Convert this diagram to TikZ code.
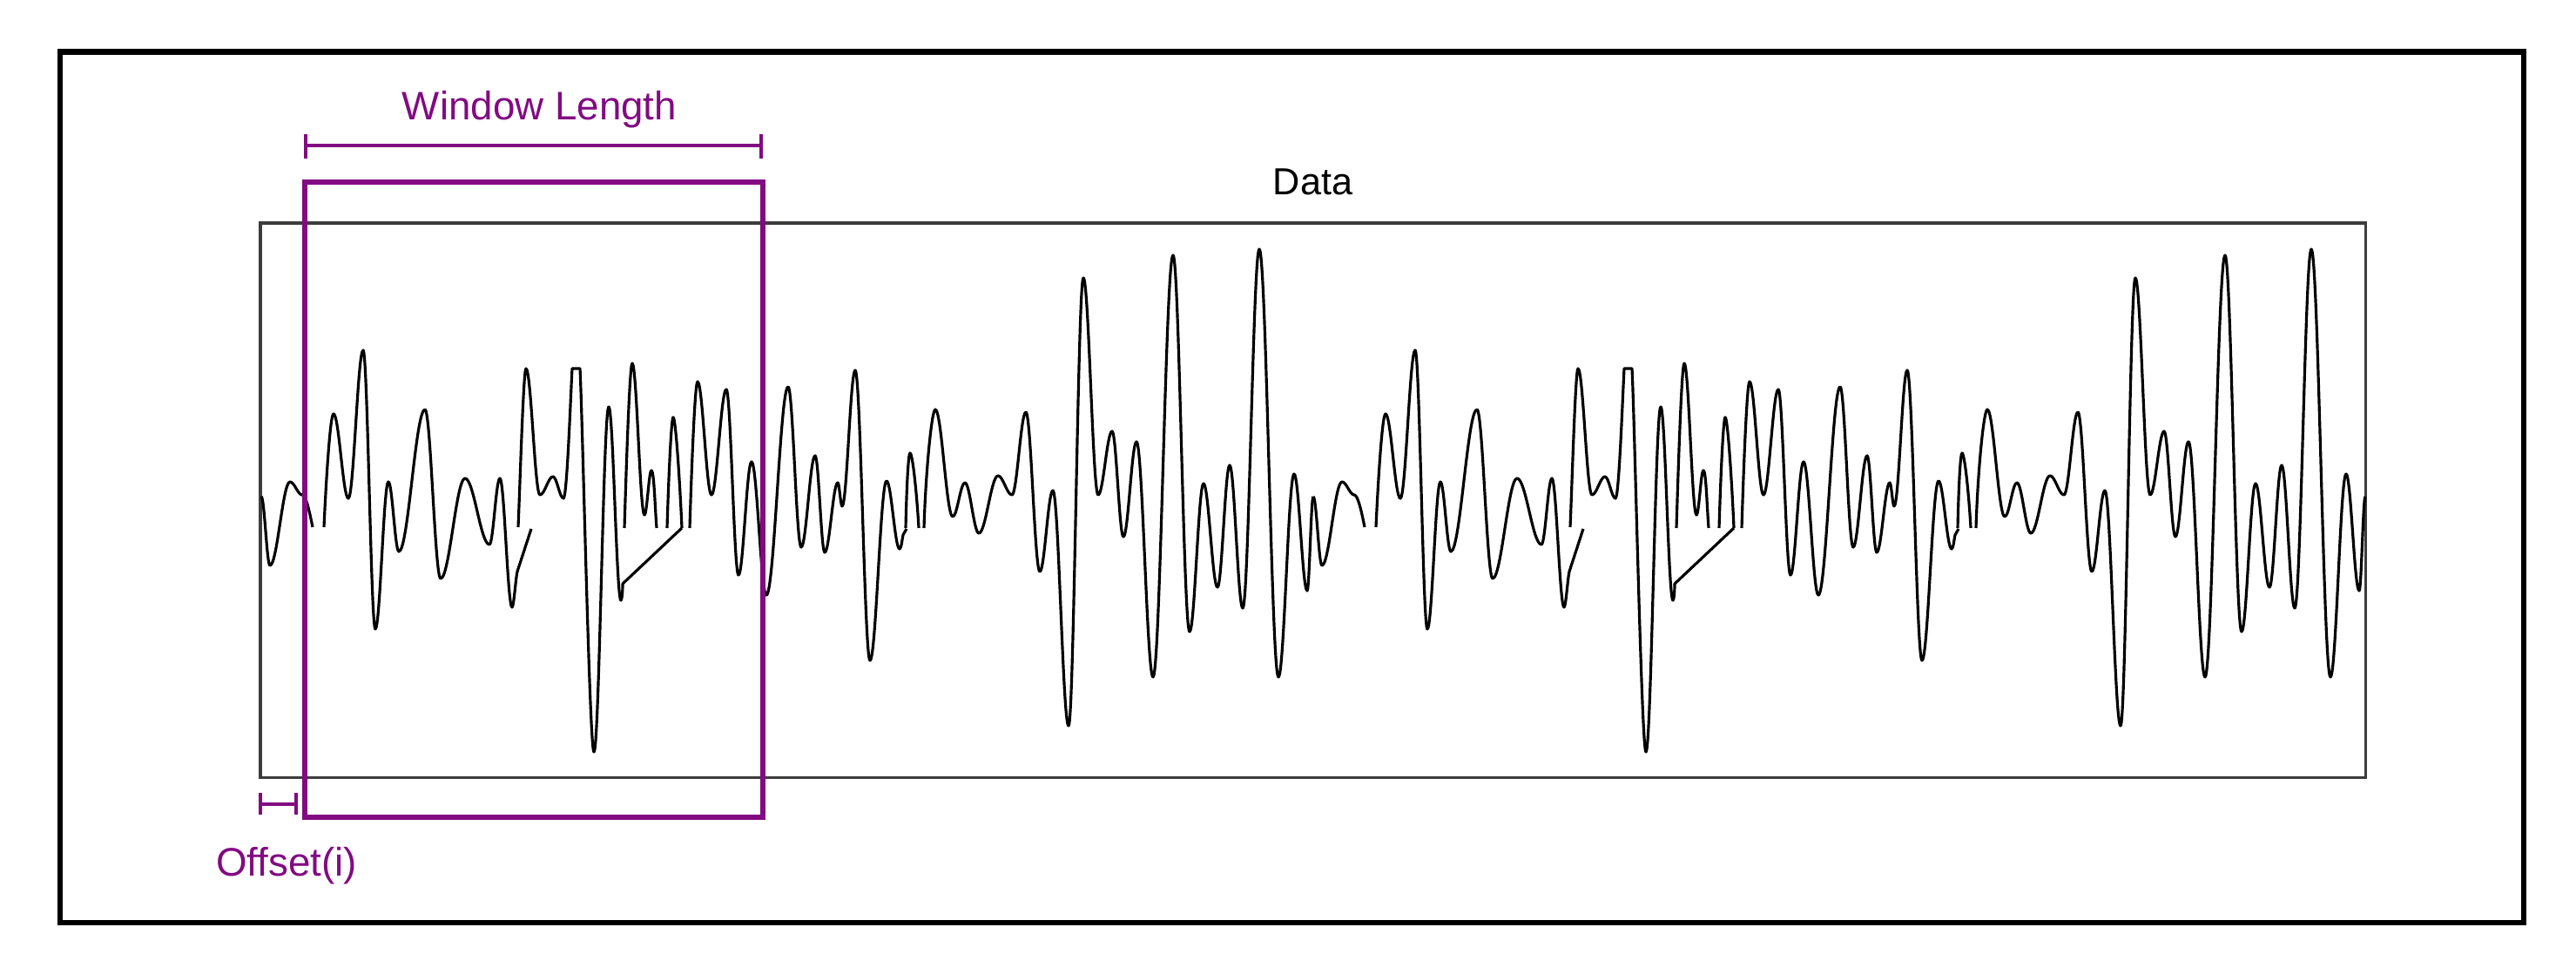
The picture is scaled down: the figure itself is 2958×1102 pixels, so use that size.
\documentclass[tikz,border=0pt]{standalone}
\usepackage{fontspec}
\setmainfont{Liberation Sans}
\definecolor{wpurple}{RGB}{130,10,130}
\definecolor{rectgray}{RGB}{60,60,60}
\tikzset{
  frame/.style={draw=black, line width=1.9pt},
  datarect/.style={draw=rectgray, line width=1pt},
  window/.style={draw=wpurple, line width=1.6pt},
  bracket/.style={draw=wpurple, line width=0.9pt},
  wave/.style={draw=black, line width=0.9pt, line join=round},
  purplelabel/.style={text=wpurple, font=\fontsize{13}{15}\selectfont, inner sep=0pt, anchor=base},
  datalabel/.style={text=black, font=\fontsize{12.3}{14}\selectfont, inner sep=0pt, anchor=base},
}
\newcommand\wavePeriod{%
  % stroke A
  \draw[wave] (300,570) \foreach \x/\y [remember=\x as \lx (initially 300)] in {310/649,333/553,347/568}
     { .. controls +({0.3642*(\x-\lx)},0) and +({-0.3642*(\x-\lx)},0) .. (\x,\y) }
     .. controls (351,568) and (355,585) .. (359,605);
  % stroke B
  \draw[wave] (372,605) .. controls (374,560) and (379,475) .. (383,475)
     \foreach \x/\y [remember=\x as \lx (initially 383)] in {400/572,417/402,431/722,446/553,458/633,488/470,506/664,534/549,562/625,574/549,588/697}
     { .. controls +({0.3642*(\x-\lx)},0) and +({-0.3642*(\x-\lx)},0) .. (\x,\y) }
     .. controls (590,697) and (592,665) .. (594,656) -- (610,607);
  % stroke C
  \draw[wave] (595,605) .. controls (597,560) and (601,423) .. (604,423)
     \foreach \x/\y [remember=\x as \lx (initially 604)] in {620/568,635/547,647/572}
     { .. controls +({0.3642*(\x-\lx)},0) and +({-0.3642*(\x-\lx)},0) .. (\x,\y) }
     .. controls (651,572) and (655,460) .. (657,423) -- (666,423)
     .. controls (669,480) and (677,863) .. (682,863)
     \foreach \x/\y [remember=\x as \lx (initially 682)] in {699/467,713/689}
     { .. controls +({0.3642*(\x-\lx)},0) and +({-0.3642*(\x-\lx)},0) .. (\x,\y) }
     .. controls (714,689) and (715,680) .. (715,670) -- (783,606);
  % stroke D
  \draw[wave] (717,606) .. controls (719,540) and (723,417) .. (726,417)
     \foreach \x/\y [remember=\x as \lx (initially 726)] in {740/591,748/540}
     { .. controls +({0.3642*(\x-\lx)},0) and +({-0.3642*(\x-\lx)},0) .. (\x,\y) }
     .. controls (751,540) and (752,580) .. (754,606);
  % stroke E
  \draw[wave] (766,606) .. controls (768,540) and (771,479) .. (773,479)
     .. controls (776,479) and (781,560) .. (783,606);
  % stroke F
  \draw[wave] (792,606) .. controls (794,540) and (798,438) .. (801,438)
     \foreach \x/\y [remember=\x as \lx (initially 801)] in {817/568,834/447,848/660,863/530,880/683,905/444,920/628,936/523,947/634,962/554,967/581,982/425,999/758,1018/552,1033/630}
     { .. controls +({0.3642*(\x-\lx)},0) and +({-0.3642*(\x-\lx)},0) .. (\x,\y) }
     .. controls (1035,630) and (1036,618) .. (1037,614) -- (1041,607);
  % stroke G
  \draw[wave] (1040,606) .. controls (1041,560) and (1043,520) .. (1045,520)
     .. controls (1048,520) and (1053,570) .. (1055,606);
  % stroke H
  \draw[wave] (1061,606) .. controls (1063,540) and (1070,470) .. (1074,470)
     \foreach \x/\y [remember=\x as \lx (initially 1074)] in {1094/593,1108/554,1124/612,1146/546,1162/568,1178/473,1194/656,1209/563,1227/833,1244/319,1261/568,1277/495,1290/616,1305/507,1324/777,1347/293,1366/725,1382/555,1398/674,1412/534,1427/698,1446/286,1468/777,1486/544,1501/678,1508/570}
     { .. controls +({0.3642*(\x-\lx)},0) and +({-0.3642*(\x-\lx)},0) .. (\x,\y) };
}
\begin{document}
\begin{tikzpicture}[x=0.01cm,y=-0.01cm]
\useasboundingbox (0,0) rectangle (2958,1102);
% outer frame
\coordinate (frameNW) at (69,59.5);
\coordinate (frameSE) at (2898,1059);
\draw[frame] (frameNW) rectangle (frameSE);
% data rectangle
\coordinate (dataNW) at (299,256);
\coordinate (dataSE) at (2716.5,892.5);
\draw[datarect] (dataNW) rectangle (dataSE);
\node[datalabel] (datalbl) at (1507.5,223) {Data};
% waveform (two copies of one period)
\foreach \s in {0,1208} {
  \begin{scope}[shift={(\s,0)}]
    \wavePeriod
  \end{scope}
}
% window
\coordinate (winNW) at (350,209);
\coordinate (winSE) at (876,938);
\draw[window] (winNW) rectangle (winSE);
% window length bracket
\coordinate (wlA) at (351,167);
\coordinate (wlB) at (874,167);
\draw[bracket] (wlA) -- (wlB);
\draw[bracket] (351,154) -- (351,182);
\draw[bracket] (874,154) -- (874,182);
\node[purplelabel] (wllbl) at (619.5,137) {Window Length};
% offset bracket
\coordinate (ofA) at (299,923);
\coordinate (ofB) at (340,923);
\draw[bracket] (ofA) -- (ofB);
\draw[bracket] (299,910) -- (299,935);
\draw[bracket] (340,910) -- (340,935);
\node[purplelabel] (oflbl) at (329,1005) {Offset(i)};
\end{tikzpicture}
\end{document}
